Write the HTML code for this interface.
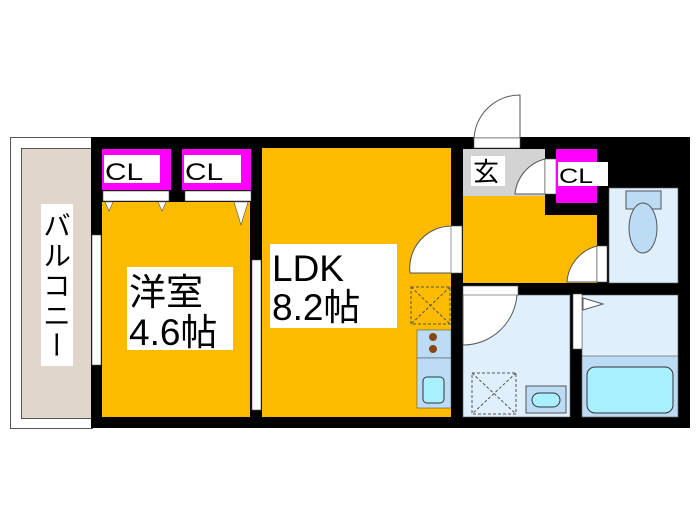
<!DOCTYPE html>
<html><head><meta charset="utf-8"><style>
body{margin:0;background:#fff;width:700px;height:525px;overflow:hidden;font-family:"Liberation Sans","Noto Sans CJK JP",sans-serif;position:relative}
.v{position:absolute;left:41px;top:204px;width:32px;height:162px;background:#fff;writing-mode:vertical-rl;font-family:"Noto Sans CJK JP",sans-serif;font-size:28px;line-height:32px;text-align:center;letter-spacing:2px;padding-top:2px;box-sizing:border-box}
</style></head><body>
<svg width="700" height="525" xmlns="http://www.w3.org/2000/svg" font-family="Liberation Sans, Noto Sans CJK JP, sans-serif" style="position:absolute;left:0;top:0">
<rect x="10.5" y="137.5" width="82" height="291" fill="#fff" stroke="#555"/>
<rect x="21.5" y="148.5" width="71" height="270" fill="#e0d6cc" stroke="#555"/>
<rect x="91" y="137" width="599" height="291" fill="#000"/>
<rect x="102" y="202" width="148" height="215" fill="#fdbb00"/>
<rect x="102" y="149" width="69" height="41" fill="#ff00ff"/>
<rect x="104" y="155" width="56" height="28" fill="#fff"/>
<text x="105" y="180" font-size="24" textLength="38" lengthAdjust="spacingAndGlyphs">CL</text>
<rect x="182" y="149" width="69" height="41" fill="#ff00ff"/>
<rect x="184" y="155" width="57" height="28" fill="#fff"/>
<text x="185" y="180" font-size="24" textLength="38" lengthAdjust="spacingAndGlyphs">CL</text>
<rect x="103" y="191" width="66" height="10" fill="#fff" stroke="#555" stroke-width=".6"/>
<rect x="185" y="191" width="66" height="10" fill="#fff" stroke="#555" stroke-width=".6"/>
<polygon points="105,202 113,202 109,211" fill="#fff" stroke="#555" stroke-width=".6"/>
<polygon points="158,202 166,202 162,211" fill="#fff" stroke="#555" stroke-width=".6"/>
<polygon points="234,202 248,202 241,225" fill="#fff" stroke="#555" stroke-width=".6"/>
<rect x="92" y="235" width="9" height="130" fill="#fff" stroke="#555" stroke-width=".6"/>
<rect x="127" y="267" width="106" height="83" fill="#fff"/>
<text x="129" y="305" font-size="37">洋室</text>
<text x="129" y="345" font-size="37">4.6帖</text>
<rect x="262" y="148" width="189" height="269" fill="#fdbb00"/>
<rect x="252" y="260" width="9" height="150" fill="#fff" stroke="#555" stroke-width=".6"/>
<rect x="270" y="244" width="127" height="84" fill="#fff"/>
<text x="272" y="281" font-size="37">LDK</text>
<text x="272" y="320" font-size="37">8.2帖</text>
<rect x="411" y="287" width="39" height="37" fill="none" stroke="#555" stroke-dasharray="3,2"/>
<path d="M411 287L450 324M450 287L411 324" stroke="#555" stroke-dasharray="3,2"/>
<rect x="417" y="330" width="34" height="28" fill="#bcdcf5" stroke="#555" stroke-width=".6"/>
<circle cx="433" cy="337" r="4" fill="#8b4513"/><circle cx="433" cy="349" r="4" fill="#8b4513"/>
<rect x="417" y="358" width="34" height="50" fill="#bcdcf5" stroke="#555" stroke-width=".6"/>
<rect x="423" y="377" width="21" height="26" rx="4" fill="#a8f0ff" stroke="#333"/>
<path d="M452 226A42 42 0 0 0 410 273L452 273Z" fill="#fff" stroke="#555"/>
<rect x="451" y="226" width="11" height="47" fill="#fff" stroke="#555" stroke-width=".6"/>
<rect x="463" y="149" width="82" height="47" fill="#d3d3d3"/>
<rect x="471" y="156" width="34" height="30" fill="#fff"/>
<text x="473" y="181" font-size="26">玄</text>
<path d="M463 196H545V215H597V283H463Z" fill="#fdbb00"/>
<path d="M545 159A40 40 0 0 0 515 194L545 194Z" fill="#fff" stroke="#555"/>
<rect x="545" y="159" width="11" height="35" fill="#fff" stroke="#555" stroke-width=".6"/>
<rect x="556" y="149" width="41" height="54" fill="#ff00ff"/>
<rect x="558" y="162" width="50" height="24" fill="#fff"/>
<text x="559" y="183" font-size="21" textLength="34" lengthAdjust="spacingAndGlyphs">CL</text>
<path d="M597 246A40 40 0 0 0 567 282L597 282Z" fill="#fff" stroke="#555"/>
<rect x="597" y="246" width="10" height="36" fill="#fff" stroke="#555" stroke-width=".6"/>
<path d="M520 95A46 46 0 0 0 474 138L520 138Z" fill="#fff" stroke="#555"/>
<rect x="474" y="138" width="46" height="10" fill="#fff" stroke="#555" stroke-width=".6"/>
<rect x="609" y="188" width="69" height="95" fill="#dff0fc" stroke="#555" stroke-width=".6"/>
<rect x="626" y="191" width="35" height="18" fill="#bcdcf5" stroke="#555"/>
<ellipse cx="643" cy="228" rx="14" ry="25" fill="#bcdcf5" stroke="#555"/>
<rect x="463" y="295" width="107" height="122" fill="#dff0fc" stroke="#555" stroke-width=".6"/>
<path d="M463 294H517A54 54 0 0 1 463 345Z" fill="#fff" stroke="#555"/>
<rect x="463" y="286" width="55" height="9" fill="#fff" stroke="#555" stroke-width=".6"/>
<rect x="472" y="373" width="44" height="41" fill="none" stroke="#555" stroke-dasharray="3,2"/>
<path d="M472 373L516 414M516 373L472 414" stroke="#555" stroke-dasharray="3,2"/>
<rect x="526" y="386" width="40" height="27" fill="#bcdcf5" stroke="#555"/>
<rect x="532" y="393" width="28" height="14" rx="7" fill="#a8f0ff" stroke="#333"/>
<rect x="582" y="295" width="96" height="122" fill="#dff0fc" stroke="#555" stroke-width=".6"/>
<rect x="582" y="356" width="96" height="61" fill="#bcdcf5" stroke="#555" stroke-width=".6"/>
<rect x="587" y="367" width="86" height="46" rx="8" fill="#a8f0ff" stroke="#333"/>
<rect x="573" y="294" width="9" height="55" fill="#fff" stroke="#555" stroke-width=".6"/>
<polygon points="583,298 603,304 583,310" fill="#fff" stroke="#555"/>
</svg>
<div class="v">バルコニー</div>
</body></html>
